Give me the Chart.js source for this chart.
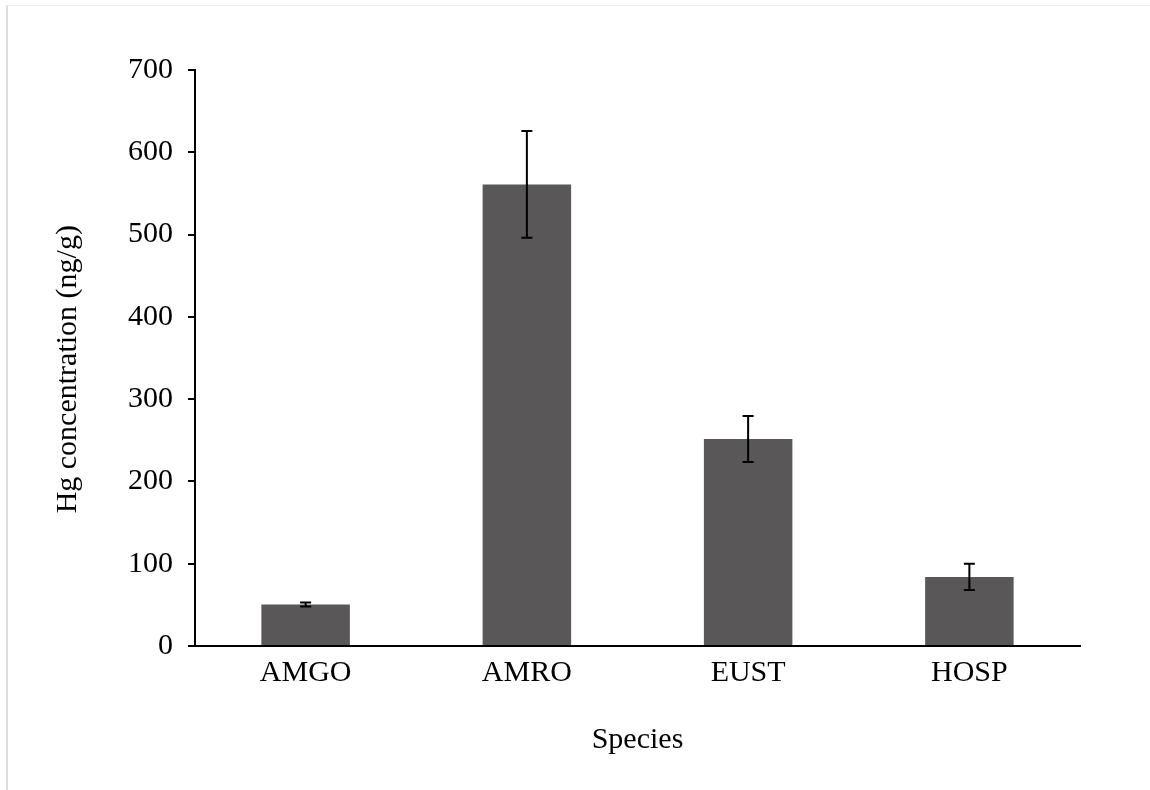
<!DOCTYPE html>
<html>
<head>
<meta charset="utf-8">
<title>Hg concentration by species</title>
<script src="https://cdn.jsdelivr.net/npm/chart.js@4.4.0/dist/chart.umd.min.js"></script>
<style>
    html, body {
        margin: 0;
        padding: 0;
        background: #ffffff;
    }
    .chart-wrapper {
        position: relative;
        width: 1150px;
        height: 790px;
        overflow: hidden;
    }
    .frame-left {
        position: absolute;
        left: 6px;
        top: 5px;
        width: 2px;
        height: 785px;
        background: #dddddd;
    }
    .frame-top {
        position: absolute;
        left: 6px;
        top: 5px;
        width: 1144px;
        height: 1px;
        background: #eeeeee;
    }
</style>
</head>
<body>
<div class="chart-wrapper">
    <canvas id="chart" width="1150" height="790"></canvas>
    <div class="frame-left"></div>
    <div class="frame-top"></div>
</div>
<script>
// Data
const species = ['AMGO', 'AMRO', 'EUST', 'HOSP'];
const hgMeans = [50.5, 561, 251.5, 84];
const hgErrors = [2.5, 65, 28, 16];
const yTicks = [0, 100, 200, 300, 400, 500, 600, 700];

const FONT = '"Liberation Serif", "Times New Roman", serif';

// Draws the +/- error bars on top of the bars
const errorBarPlugin = {
    id: 'errorBars',
    afterDatasetsDraw(chart) {
        const { ctx, scales } = chart;
        const meta = chart.getDatasetMeta(0);
        ctx.save();
        ctx.strokeStyle = '#000000';
        ctx.lineWidth = 2;
        meta.data.forEach((bar, i) => {
            const x = bar.x;
            const yHigh = scales.y.getPixelForValue(hgMeans[i] + hgErrors[i]);
            const yLow = scales.y.getPixelForValue(hgMeans[i] - hgErrors[i]);
            const cap = 5.5;
            ctx.beginPath();
            ctx.moveTo(x, yHigh);
            ctx.lineTo(x, yLow);
            ctx.moveTo(x - cap, yHigh);
            ctx.lineTo(x + cap, yHigh);
            ctx.moveTo(x - cap, yLow);
            ctx.lineTo(x + cap, yLow);
            ctx.stroke();
        });
        ctx.restore();
    }
};

const whiteBackground = {
    id: 'whiteBackground',
    beforeDraw(chart) {
        const ctx = chart.ctx;
        ctx.save();
        ctx.fillStyle = '#ffffff';
        ctx.fillRect(0, 0, chart.width, chart.height);
        ctx.restore();
    }
};

new Chart(document.getElementById('chart'), {
    type: 'bar',
    data: {
        labels: species,
        datasets: [
            {
                label: 'Hg concentration',
                data: hgMeans,
                backgroundColor: '#595757',
                borderWidth: 0,
                barPercentage: 0.4,
                categoryPercentage: 1
            }
        ]
    },
    options: {
        responsive: false,
        animation: false,
        devicePixelRatio: 1,
        layout: {
            padding: { top: 70, right: 70, left: 0, bottom: 0 }
        },
        plugins: {
            legend: { display: false },
            tooltip: { enabled: false },
            title: { display: false }
        },
        scales: {
            x: {
                grid: { display: false, drawTicks: false },
                border: { display: true, color: '#000000', width: 2 },
                ticks: {
                    color: '#000000',
                    padding: 9,
                    font: { family: FONT, size: 30 }
                },
                title: {
                    display: true,
                    text: 'Species',
                    color: '#000000',
                    padding: { top: 0, bottom: 32 },
                    font: { family: FONT, size: 30 }
                },
                afterFit(scale) {
                    scale.height = 144;
                }
            },
            y: {
                min: 0,
                max: 700,
                afterBuildTicks(scale) {
                    scale.ticks = yTicks.map(v => ({ value: v }));
                },
                grid: {
                    display: true,
                    drawOnChartArea: false,
                    drawTicks: true,
                    tickLength: 7,
                    color: '#000000',
                    lineWidth: 2
                },
                border: { display: true, color: '#000000', width: 2 },
                ticks: {
                    color: '#000000',
                    padding: 15,
                    font: { family: FONT, size: 30 }
                },
                title: {
                    display: true,
                    // trailing spaces nudge the centred title a little lower, as in the original
                    text: 'Hg concentration (ng/g)\u00a0\u00a0\u00a0',
                    color: '#000000',
                    padding: { top: 50, bottom: 0 },
                    font: { family: FONT, size: 30 }
                },
                afterFit(scale) {
                    scale.width = 195;
                }
            }
        }
    },
    plugins: [whiteBackground, errorBarPlugin]
});
</script>
</body>
</html>
